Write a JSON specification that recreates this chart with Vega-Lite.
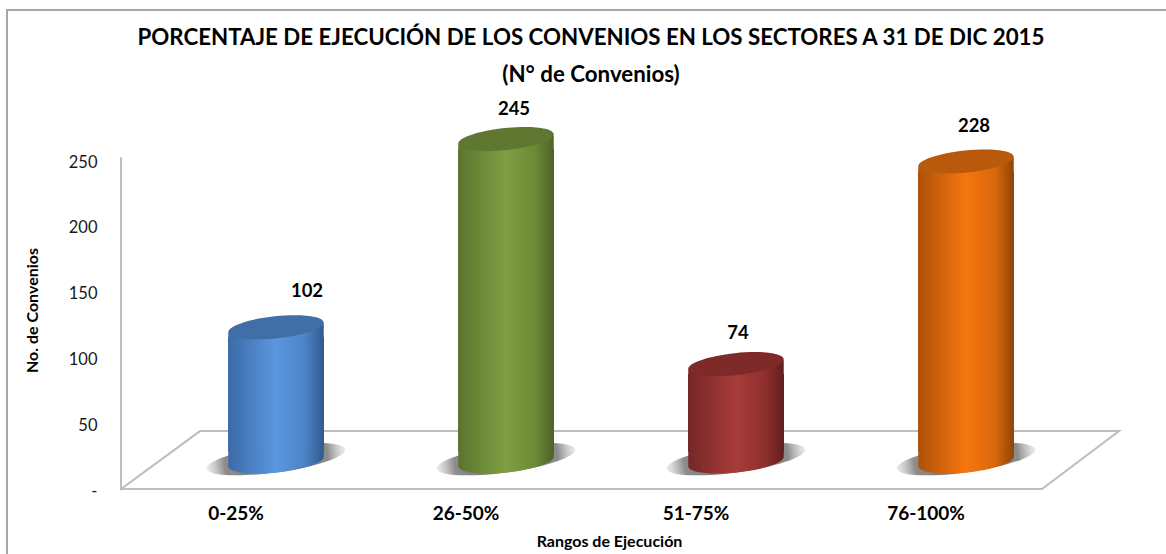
{
"$schema":"https://vega.github.io/schema/vega-lite/v6.json",
"width":920,"height":329,"autosize":"none",
"padding":{"left":121,"top":160,"right":125,"bottom":65},
"background":"white",
"config":{"view":{"stroke":null},"font":"Lato"},
"params":[{"name":"grads","value":{
  "0-25%":{"gradient":"linear","x1":0,"y1":0,"x2":1,"y2":0,"stops":[{"offset":0,"color":"#3c6aa6"},{"offset":0.5,"color":"#5b97e0"},{"offset":0.8,"color":"#4d83c6"},{"offset":1,"color":"#2f5a8e"}]},
  "26-50%":{"gradient":"linear","x1":0,"y1":0,"x2":1,"y2":0,"stops":[{"offset":0,"color":"#5b7530"},{"offset":0.5,"color":"#7f9f42"},{"offset":0.8,"color":"#6d8a37"},{"offset":1,"color":"#4d6326"}]},
  "51-75%":{"gradient":"linear","x1":0,"y1":0,"x2":1,"y2":0,"stops":[{"offset":0,"color":"#752725"},{"offset":0.5,"color":"#a83c3a"},{"offset":0.8,"color":"#8f302e"},{"offset":1,"color":"#5f1e1d"}]},
  "76-100%":{"gradient":"linear","x1":0,"y1":0,"x2":1,"y2":0,"stops":[{"offset":0,"color":"#ad5208"},{"offset":0.5,"color":"#f6760f"},{"offset":0.8,"color":"#d9680c"},{"offset":1,"color":"#8f4506"}]}
}}],
"title":{"text":["PORCENTAJE DE EJECUCIÓN DE LOS CONVENIOS EN LOS SECTORES A 31 DE DIC 2015","(N° de Convenios)"],"font":"Lato","fontSize":22.3,"fontWeight":"bold","color":"#000000","lineHeight":37,"anchor":"middle","dx":10,"offset":-80},
"datasets":{
"bars":[{"rango":"0-25%","convenios":102},{"rango":"26-50%","convenios":245},{"rango":"51-75%","convenios":74},{"rango":"76-100%","convenios":228}],
"floor":[{"i":0,"fx":0,"fy":252},{"i":1,"fx":0,"fy":0},{"i":2,"fx":79,"fy":44},{"i":3,"fx":998,"fy":44},{"i":4,"fx":921,"fy":0},{"i":5,"fx":0,"fy":0}],
"frame":[{"i":0,"fx":-114,"fy":-50},{"i":1,"fx":-114,"fy":364},{"i":2,"fx":1045,"fy":364}]
},
"data":{"name":"bars"},
"resolve":{"scale":{"x":"independent"}},
"layer":[
{"data":{"name":"frame"},"mark":{"type":"line","stroke":"#a6a6a6","strokeWidth":2,"clip":false},
 "encoding":{"x":{"field":"fx","type":"quantitative","axis":null,"scale":{"domain":[0,920],"nice":false,"zero":false}},
 "y":{"field":"fy","type":"quantitative","scale":{"domain":[0,250],"nice":false},
   "axis":{"values":[0,50,100,150,200,250],"grid":false,"domain":false,"ticks":false,"labelExpr":"datum.value==0?'-':datum.label","labelFont":"Lato","labelFontSize":16.5,"labelColor":"#1a1a1a","labelPadding":24,"labelOffset":2,"title":"No. de Convenios","titleFont":"Lato","titleFontSize":16,"titleFontWeight":"bold","titleColor":"#000000","titleX":-81,"titleY":150}},
 "order":{"field":"i"}}},
{"data":{"name":"floor"},"mark":{"type":"line","stroke":"#bdbdbd","strokeWidth":2,"clip":false},
 "encoding":{"x":{"field":"fx","type":"quantitative","axis":null,"scale":{"domain":[0,920],"nice":false,"zero":false}},
 "y":{"field":"fy","type":"quantitative"},
 "order":{"field":"i"}}},
{"mark":{"type":"point","filled":true,"opacity":1,"size":19600,"xOffset":40,"yOffset":-30,"shape":"M0.99,-0.139 C1.0046,-0.0351 0.5732,0.1112 0.0264,0.188 C-0.5204,0.2648 -0.9754,0.2429 -0.99,0.139 C-1.0046,0.0351 -0.5732,-0.1112 -0.0264,-0.188 C0.5204,-0.2648 0.9754,-0.2429 0.99,-0.139 Z",
  "fill":{"gradient":"radial","x1":0.5,"y1":0.5,"r1":0,"x2":0.5,"y2":0.5,"r2":0.55,"stops":[{"offset":0,"color":"#6e6e6e"},{"offset":0.68,"color":"#8c8c8c"},{"offset":1,"color":"rgba(200,200,200,0)"}]}},
 "encoding":{"x":{"field":"rango","type":"nominal","axis":null,"sort":null},"y":{"datum":0}}},
{"mark":{"type":"bar","size":96,"xOffset":40,"yOffset":-17.5,"y2Offset":-37.5,"fill":{"expr":"grads[datum.rango]"}},
 "encoding":{"x":{"field":"rango","type":"nominal","sort":null,"scale":{"paddingInner":0,"paddingOuter":0},
   "axis":{"domain":false,"ticks":false,"labelAngle":0,"labelFont":"Lato","labelFontSize":19,"labelFontWeight":"bold","labelColor":"#000000","labelPadding":15,"title":"Rangos de Ejecución","titleFont":"Lato","titleFontSize":16,"titleFontWeight":"bold","titleColor":"#000000","titleX":488,"titleY":44}},
 "y":{"field":"convenios","type":"quantitative"},"y2":{"datum":0}}},
{"mark":{"type":"point","filled":true,"opacity":1,"size":9216,"xOffset":40,"yOffset":-27.5,"fill":{"expr":"grads[datum.rango]"},"shape":"M0.9945,-0.1045 C1.00776,0.0218 0.5733,0.171 0.024,0.2287 C-0.5253,0.2864 -0.98124,0.2308 -0.9945,0.1045 L-0.9945,-0.25 L0.9945,-0.25 Z"},
 "encoding":{"x":{"field":"rango","type":"nominal","axis":null,"sort":null},"y":{"datum":0}}},
{"mark":{"type":"point","filled":true,"opacity":1,"size":9216,"xOffset":40,"yOffset":-25.5,"fill":{"expr":"grads[datum.rango]"},"shape":"M-0.9945,0.1045 C-1.00776,-0.0218 -0.5733,-0.171 -0.024,-0.2287 C0.5253,-0.2864 0.98124,-0.2308 0.9945,-0.1045 L0.9945,0.25 L-0.9945,0.25 Z"},
 "encoding":{"x":{"field":"rango","type":"nominal","axis":null,"sort":null},"y":{"field":"convenios","type":"quantitative"}}},
{"mark":{"type":"point","filled":true,"opacity":1,"size":9216,"xOffset":40,"yOffset":-27.5,"shape":"M0.9945,-0.1045 C1.00776,0.0218 0.5733,0.171 0.024,0.2287 C-0.5253,0.2864 -0.98124,0.2308 -0.9945,0.1045 C-1.00776,-0.0218 -0.5733,-0.171 -0.024,-0.2287 C0.5253,-0.2864 0.98124,-0.2308 0.9945,-0.1045 Z"},
 "encoding":{"x":{"field":"rango","type":"nominal","axis":null,"sort":null},"y":{"field":"convenios","type":"quantitative"},
 "color":{"field":"rango","type":"nominal","legend":null,"scale":{"domain":["0-25%","26-50%","51-75%","76-100%"],"range":["#406ea6","#5f7730","#7e2a28","#b9590b"]}}}},
{"mark":{"type":"text","font":"Lato","fontSize":18.5,"fontWeight":"bold","color":"#000000","xOffset":40,"dx":{"expr":"datum.convenios==102?31:datum.convenios==245?8:datum.convenios==74?2:8"},"dy":{"expr":"datum.convenios==102?-64:datum.convenios==245?-58:datum.convenios==74?-59:-63"}},
 "encoding":{"x":{"field":"rango","type":"nominal","axis":null,"sort":null},"y":{"field":"convenios","type":"quantitative"},"text":{"field":"convenios","type":"quantitative"}}}
]
}
